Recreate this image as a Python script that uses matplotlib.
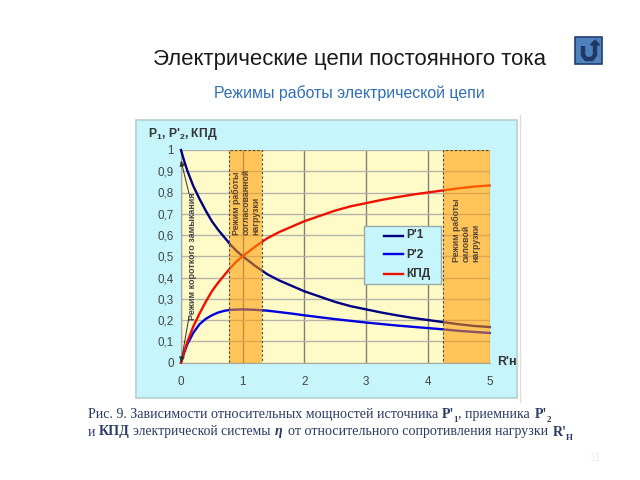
import matplotlib
matplotlib.use("Agg")
import matplotlib.pyplot as plt
from matplotlib.patches import Rectangle

plt.rcParams['font.family'] = ['Liberation Sans', 'DejaVu Sans']

R = [0, 0.05, 0.1, 0.2, 0.3, 0.4, 0.5, 0.6, 0.7, 0.8, 0.9, 1.0, 1.2, 1.4, 1.6, 1.8, 2.0, 2.25, 2.5, 2.75,
     3.0, 3.25, 3.5, 3.75, 4.0, 4.25, 4.5, 4.75, 5.0]
P1 = [1.0, 0.95, 0.905, 0.83, 0.77, 0.715, 0.665, 0.625, 0.59, 0.555, 0.525, 0.5, 0.455, 0.415, 0.385, 0.36,
      0.335, 0.31, 0.285, 0.265, 0.25, 0.235, 0.222, 0.21, 0.2, 0.19, 0.18, 0.172, 0.167]
P2 = [0.0, 0.045, 0.085, 0.14, 0.18, 0.205, 0.222, 0.235, 0.243, 0.248, 0.249, 0.25, 0.248, 0.244, 0.237, 0.23,
      0.222, 0.213, 0.204, 0.196, 0.188, 0.181, 0.174, 0.168, 0.162, 0.156, 0.149, 0.144, 0.139]
KPD = [0.0, 0.05, 0.095, 0.17, 0.23, 0.285, 0.335, 0.375, 0.41, 0.445, 0.475, 0.5, 0.545, 0.585, 0.615, 0.64,
       0.665, 0.69, 0.715, 0.735, 0.75, 0.765, 0.778, 0.79, 0.8, 0.81, 0.82, 0.828, 0.833]
x_ticks = [0, 1, 2, 3, 4, 5]
x_labels = ['0', '1', '2', '3', '4', '5']
y_ticks = [0, 0.1, 0.2, 0.3, 0.4, 0.5, 0.6, 0.7, 0.8, 0.9, 1]
y_labels = ['0', '0,1', '0,2', '0,3', '0,4', '0,5', '0,6', '0,7', '0,8', '0,9', '1']
bands = [(0.78, 1.32), (4.25, 5.0)]

W, H = 640, 480
fig = plt.figure(figsize=(W / 100, H / 100), dpi=100, facecolor='white')

bg = fig.add_axes([0, 0, 1, 1])
bg.set_xlim(0, W); bg.set_ylim(H, 0); bg.axis('off')

# panel
bg.add_patch(Rectangle((136, 119.5), 381, 278, fc='#C6F6FC', ec='#B8CFCF', lw=1.2))
bg.plot([520, 520], [115, 402], color='#DDDDDD', lw=1)

# titles
bg.text(349.5, 60, 'Электрические цепи постоянного тока', ha='center', va='center', fontsize=15.9, color='#1a1a1a')
bg.text(349.5, 93.5, 'Режимы работы электрической цепи', ha='center', va='center', fontsize=11.4, color='#2F6FB5')

# button
bg.add_patch(Rectangle((575, 36.5), 26.5, 27.5, fc='#4F81BD', ec='#20406E', lw=1.2))
bg.plot([583, 583, 586, 592, 595, 595], [46, 55, 59, 59, 55, 44], color='#1F3864', lw=3.2, solid_capstyle='butt')
bg.fill([590.5, 599.5, 595], [45, 45, 40], color='#1F3864')

# chart text
cc = '#333333'
bg.text(148, 134.5, "P$_{\\mathregular{1}}$, P'$_{\\mathregular{2}}$, КПД", fontsize=8.7, fontweight='bold', color=cc, ha='left', va='center')
bg.text(497, 362, "R'н", fontsize=9, fontweight='bold', color=cc, ha='left', va='center')

# caption
capc = '#2A3A66'
sf = ['Liberation Serif', 'DejaVu Serif']
fs = 10.05
bg.text(88, 414.5, "Рис. 9. Зависимости относительных мощностей источника ", family=sf, fontsize=fs, color=capc, va='center')
bg.text(441.5, 414.5, "P'", family=sf, fontsize=fs, color=capc, va='center', fontweight='bold')
bg.text(453, 420, "1", family=sf, fontsize=6.5, color=capc, va='center', fontweight='bold')
bg.text(458, 414.5, ", приемника", family=sf, fontsize=fs, color=capc, va='center')
bg.text(535, 414.5, "P'", family=sf, fontsize=fs, color=capc, va='center', fontweight='bold')
bg.text(546.5, 420, "2", family=sf, fontsize=6.5, color=capc, va='center', fontweight='bold')
bg.text(88, 432, "и", family=sf, fontsize=fs, color=capc, va='center')
bg.text(99, 432, "КПД", family=sf, fontsize=fs, color=capc, va='center', fontweight='bold')
bg.text(133, 432, "электрической системы", family=sf, fontsize=fs - 0.2, color=capc, va='center')
bg.text(275, 432, "η", family=sf, fontsize=fs, color=capc, va='center', fontweight='bold', style='italic')
bg.text(288, 432, "от относительного сопротивления нагрузки", family=sf, fontsize=fs, color=capc, va='center')
bg.text(553, 432, "R'", family=sf, fontsize=fs, color=capc, va='center', fontweight='bold')
bg.text(566, 438, "Н", family=sf, fontsize=6.5, color=capc, va='center', fontweight='bold')
bg.text(595, 458, "11", fontsize=8, color='#EEEEEE', ha='center', va='center')

# main axes
ax = fig.add_axes([181 / W, 1 - 362.5 / H, (489.5 - 181) / W, (362.5 - 150) / H])
ax.set_facecolor('#FFFBC8')
ax.set_xlim(0, 5); ax.set_ylim(0, 1)
ax.set_xticks(x_ticks, x_labels)
ax.set_yticks(y_ticks, y_labels)
ax.tick_params(length=0, labelsize=8.4, labelcolor='#444444', pad=5)
ax.tick_params(axis='x', pad=10)
for s in ax.spines.values():
    s.set_visible(False)
ax.spines['left'].set_visible(True); ax.spines['left'].set_color('#A8A8A0')
ax.spines['bottom'].set_visible(True); ax.spines['bottom'].set_color('#A8A8A0')
ax.yaxis.grid(True, color='#B4B4AA', lw=1)
ax.xaxis.grid(True, color='#807F78', lw=1)
ax.set_axisbelow(True)
ax.set_zorder(2)

ax.plot(R, P1, color='#000080', lw=1.7, clip_on=False, zorder=3, label="P'1")
ax.plot(R, P2, color='#0000E0', lw=1.7, clip_on=False, zorder=3, label="P'2")
ax.plot(R, KPD, color='#F01000', lw=1.7, clip_on=False, zorder=3, label='КПД')

for a, b in bands:
    ax.axvspan(a, b, fc='#FF9900', alpha=0.55, ec='none', zorder=4)
    ax.add_patch(Rectangle((a, 0), b - a, 1, fc='none', ec='#444444', lw=0.8, ls=(0, (2, 2)), zorder=5))

tc = '#554433'
ax.text(1.05, 0.60, 'Режим работы\nсогласованной\nнагрузки', rotation=90, fontsize=6.3, ha='center', va='bottom',
        color=tc, zorder=6, fontweight='bold', linespacing=1.1, multialignment='left')
ax.text(4.62, 0.473, 'Режим работы\nсиловой\nнагрузки', rotation=90, fontsize=6.3, ha='center', va='bottom',
        color=tc, zorder=6, fontweight='bold', linespacing=1.1, multialignment='left')
ax.text(0.19, 0.5, 'Режим короткого замыкания', rotation=90, fontsize=6.5, ha='center', va='center',
        color='#444444', zorder=6, fontweight='bold')
arrow = dict(arrowstyle='-|>', color='#333333', lw=0.7, mutation_scale=8, shrinkA=0, shrinkB=0)
ax.annotate('', xy=(0.0, 0.95), xytext=(0.13, 0.795), arrowprops=arrow, zorder=6, annotation_clip=False)
ax.annotate('', xy=(0.0, 0.0), xytext=(0.13, 0.215), arrowprops=arrow, zorder=6, annotation_clip=False)

# legend
fig.add_artist(Rectangle((364 / W, 1 - 284 / H), 77 / W, 58.5 / H, transform=fig.transFigure, fc='#C6F6FC', ec='#99AAAA', lw=1, zorder=20))
handles, labels = ax.get_legend_handles_labels()
for h, l, y in zip(handles, labels, [235.5, 254.5, 274]):
    fig.add_artist(plt.Line2D([384 / W, 403 / W], [1 - y / H] * 2, color=h.get_color(), lw=1.7, zorder=21))
    fig.text(406 / W, 1 - y / H, l, fontsize=8.6, fontweight='bold', color='#333333', va='center', zorder=21)

fig.savefig('out.png', dpi=100)
